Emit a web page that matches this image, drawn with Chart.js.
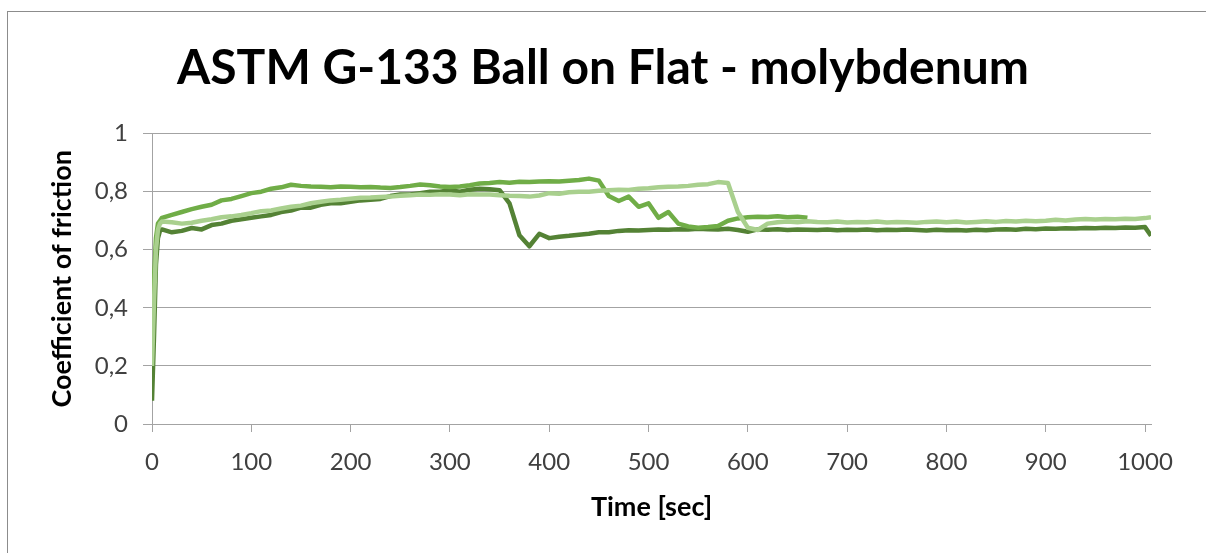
<!DOCTYPE html>
<html lang="en">
<head>
  <meta charset="UTF-8" />
  <title>ASTM G-133 Ball on Flat - molybdenum</title>
  <script src="https://cdn.jsdelivr.net/npm/chart.js"></script>
  <style>
    body {
      margin: 0;
      background: #fff;
      overflow: hidden;
    }
    .frame {
      position: absolute;
      left: 7px;
      top: 11px;
      width: 1220px;
      height: 600px;
      border: 1px solid #8c8c8c;
    }
    canvas {
      position: absolute;
      left: 0;
      top: 0;
    }
  </style>
</head>
<body>
  <div class="frame"></div>
  <canvas id="cofChart" width="1206" height="553"></canvas>

  <script>
    // time axis (seconds) shared by all runs
    const timeSec = [0, 2, 4, 6, 8, 10, 20, 30, 40, 50, 60, 70, 80, 90, 100,
      110, 120, 130, 140, 150, 160, 170, 180, 190, 200, 210, 220, 230, 240, 250,
      260, 270, 280, 290, 300, 310, 320, 330, 340, 350, 360, 370, 380, 390, 400,
      410, 420, 430, 440, 450, 460, 470, 480, 490, 500, 510, 520, 530, 540, 550,
      560, 570, 580, 590, 600, 610, 620, 630, 640, 650, 660, 670, 680, 690, 700,
      710, 720, 730, 740, 750, 760, 770, 780, 790, 800, 810, 820, 830, 840, 850,
      860, 870, 880, 890, 900, 910, 920, 930, 940, 950, 960, 970, 980, 990, 1000, 1006];

    // run 1 (dark green)
    const run1 = [0.08, 0.30, 0.55, 0.64, 0.665, 0.67, 0.66, 0.665, 0.675, 0.67,
      0.685, 0.69, 0.70, 0.705, 0.71, 0.715, 0.72, 0.73, 0.735, 0.745,
      0.745, 0.755, 0.76, 0.76, 0.765, 0.77, 0.772, 0.775, 0.785, 0.79,
      0.79, 0.795, 0.80, 0.80, 0.805, 0.80, 0.807, 0.81, 0.808, 0.805,
      0.76, 0.65, 0.612, 0.655, 0.64, 0.645, 0.648, 0.652, 0.655, 0.66,
      0.66, 0.665, 0.667, 0.666, 0.668, 0.67, 0.669, 0.671, 0.67, 0.672,
      0.671, 0.67, 0.672, 0.668, 0.662, 0.67, 0.669, 0.671, 0.668, 0.67,
      0.669, 0.668, 0.67, 0.667, 0.669, 0.668, 0.67, 0.667, 0.669, 0.668,
      0.67, 0.668, 0.666, 0.669, 0.667, 0.668, 0.666, 0.669, 0.667, 0.67,
      0.671, 0.669, 0.672, 0.671, 0.673, 0.672, 0.674, 0.673, 0.675, 0.674,
      0.676, 0.675, 0.677, 0.676, 0.678, 0.648];

    // run 2 (medium green), ends at 660 s
    const run2 = [0.30, 0.50, 0.64, 0.69, 0.70, 0.71, 0.72, 0.73, 0.74, 0.748,
      0.755, 0.77, 0.775, 0.785, 0.795, 0.80, 0.81, 0.815, 0.824, 0.82,
      0.818, 0.817, 0.815, 0.818, 0.817, 0.815, 0.816, 0.814, 0.813, 0.816,
      0.82, 0.825, 0.822, 0.818, 0.816, 0.818, 0.822, 0.828, 0.83, 0.833,
      0.831, 0.834, 0.833, 0.835, 0.836, 0.835, 0.838, 0.84, 0.845, 0.838,
      0.785, 0.768, 0.783, 0.748, 0.76, 0.71, 0.73, 0.69, 0.68, 0.676,
      0.678, 0.682, 0.70, 0.708, 0.712, 0.714, 0.713, 0.715, 0.712, 0.714, 0.71];

    // run 3 (light green)
    const run3 = [0.20, 0.42, 0.60, 0.67, 0.69, 0.697, 0.695, 0.69, 0.693, 0.70,
      0.705, 0.712, 0.715, 0.72, 0.726, 0.733, 0.735, 0.742, 0.748, 0.752,
      0.76, 0.765, 0.77, 0.772, 0.776, 0.779, 0.78, 0.782, 0.783, 0.786,
      0.788, 0.79, 0.789, 0.791, 0.79, 0.788, 0.791, 0.79, 0.79, 0.788,
      0.786, 0.785, 0.783, 0.787, 0.795, 0.793, 0.798, 0.80, 0.80, 0.803,
      0.805, 0.807, 0.806, 0.81, 0.812, 0.815, 0.817, 0.818, 0.82, 0.824,
      0.826, 0.833, 0.83, 0.73, 0.676, 0.668, 0.69, 0.695, 0.697, 0.695,
      0.698, 0.696, 0.695, 0.697, 0.694, 0.696, 0.695, 0.697, 0.694, 0.696,
      0.695, 0.693, 0.696, 0.697, 0.695, 0.697, 0.694, 0.696, 0.698, 0.696,
      0.699, 0.697, 0.70, 0.698, 0.70, 0.703, 0.701, 0.704, 0.706, 0.704,
      0.706, 0.705, 0.707, 0.706, 0.709, 0.712];

    const xTicks = [0, 100, 200, 300, 400, 500, 600, 700, 800, 900, 1000];
    const yTicks = [0, 0.2, 0.4, 0.6, 0.8, 1];

    function toPoints(values) {
      return values.map((v, i) => ({ x: timeSec[i], y: v }));
    }

    const gridGrey = '#a3a3a3';
    Chart.defaults.font.family = 'Lato, "Open Sans", sans-serif';

    function noScalePadding(scale) {
      scale.paddingLeft = 0;
      scale.paddingRight = 0;
      scale.paddingTop = 0;
      scale.paddingBottom = 0;
    }

    const ctx = document.getElementById('cofChart').getContext('2d');
    new Chart(ctx, {
      type: 'line',
      data: {
        datasets: [
          { label: 'run 3', data: toPoints(run3), borderColor: '#a9d08e', order: 0 },
          { label: 'run 2', data: toPoints(run2), borderColor: '#70ad47', order: 1 },
          { label: 'run 1', data: toPoints(run1), borderColor: '#548235', order: 2 }
        ]
      },
      options: {
        responsive: false,
        animation: false,
        layout: { padding: 0 },
        elements: {
          point: { radius: 0 },
          line: { borderWidth: 4.5, tension: 0, borderJoinStyle: 'round', fill: false }
        },
        plugins: {
          legend: { display: false },
          tooltip: { enabled: false },
          title: {
            display: true,
            text: 'ASTM G-133 Ball on Flat - molybdenum',
            color: '#000',
            font: { size: 48, weight: 'bold' },
            padding: { top: 40, bottom: 36 }
          }
        },
        scales: {
          x: {
            type: 'linear',
            min: 0,
            max: 1006,
            afterFit: scale => {
              scale.height = 129;
              noScalePadding(scale);
              scale.paddingRight = 55;
            },
            afterBuildTicks: scale => { scale.ticks = xTicks.map(v => ({ value: v })); },
            ticks: {
              maxRotation: 0,
              color: '#404040',
              font: { size: 24 },
              padding: 16,
              callback: v => String(v)
            },
            grid: { drawOnChartArea: false, color: gridGrey, tickLength: 8 },
            border: { color: gridGrey },
            title: {
              display: true,
              text: 'Time [sec]',
              color: '#000',
              font: { size: 27, weight: 'bold' },
              padding: { top: 0, bottom: 30 }
            }
          },
          y: {
            min: 0,
            max: 1,
            afterFit: scale => { scale.width = 152; noScalePadding(scale); },
            afterBuildTicks: scale => { scale.ticks = yTicks.map(v => ({ value: v })); },
            ticks: {
              color: '#404040',
              font: { size: 24 },
              padding: 15,
              callback: v => (v === 0 || v === 1) ? String(v) : v.toFixed(1).replace('.', ',')
            },
            grid: { color: gridGrey, tickLength: 9 },
            border: { color: gridGrey },
            title: {
              display: true,
              text: 'Coefficient of friction',
              color: '#000',
              font: { size: 27, weight: 'bold' },
              padding: { top: 46, bottom: 0 }
            }
          }
        }
      }
    });
  </script>
</body>
</html>
